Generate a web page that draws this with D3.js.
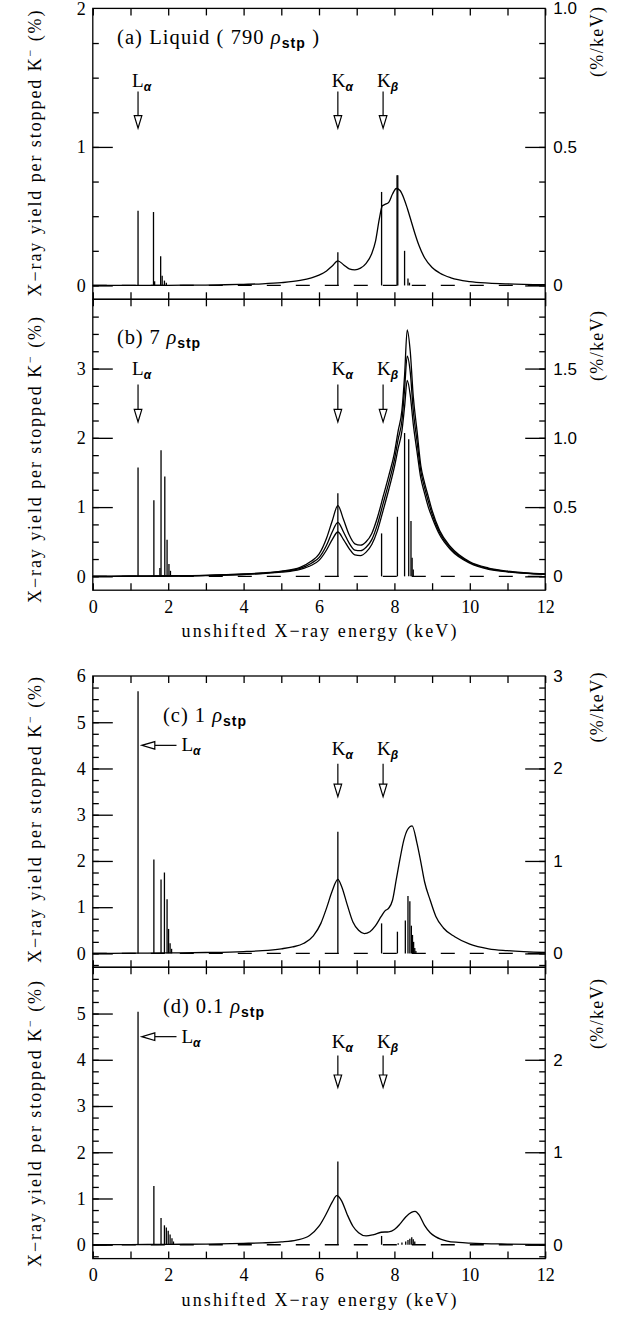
<!DOCTYPE html>
<html><head><meta charset="utf-8">
<script src="https://cdn.jsdelivr.net/npm/d3@7"></script>
<style>
body{margin:0;background:#fff;}
svg{display:block;}
</style></head><body>
<svg id="chart" width="621" height="1317"></svg>
<script>
// ---------------- DATA ----------------
const xTickValues = [0,1,2,3,4,5,6,7,8,9,10,11,12];
const xTickLabels = [0,2,4,6,8,10,12];

// Panel (a) Liquid, continuum curve
const energyA = [0,1,2,3,3.5,4,4.5,5,5.5,5.8,6.0,6.2,6.35,6.5,6.65,6.8,6.95,7.1,7.25,7.4,7.5,7.6,7.68,7.75,7.85,7.95,8.05,8.15,8.25,8.35,8.45,8.55,8.65,8.8,9.0,9.2,9.5,10,10.5,11,12];
const yieldA  = [0,0,0.001,0.003,0.005,0.008,0.012,0.02,0.036,0.055,0.075,0.105,0.14,0.178,0.15,0.12,0.113,0.125,0.16,0.23,0.32,0.48,0.575,0.585,0.6,0.66,0.70,0.685,0.63,0.55,0.46,0.37,0.29,0.2,0.13,0.09,0.055,0.028,0.017,0.011,0.005];
const spikeEA = [1.2,1.61,1.64,1.8,1.84,1.9,1.95,6.5,7.66,8.07,8.09,8.27,8.36,8.4];
const spikeHA = [0.54,0.53,0.03,0.21,0.07,0.035,0.02,0.24,0.675,0.795,0.795,0.25,0.05,0.02];

// Panel (b) 7 rho_stp, three curves
const energyB = [0,1,2,3,4,4.5,5,5.5,5.8,6.0,6.2,6.35,6.5,6.65,6.8,6.95,7.1,7.25,7.4,7.55,7.7,7.85,8.0,8.1,8.2,8.27,8.34,8.42,8.5,8.6,8.7,8.8,8.9,9.0,9.2,9.5,10,10.5,11,12];
const yieldB1 = [0,0.002,0.006,0.015,0.035,0.05,0.075,0.13,0.22,0.32,0.55,0.8,1.02,0.82,0.6,0.47,0.45,0.5,0.62,0.85,1.15,1.45,1.78,2.1,2.4,2.9,3.56,3.25,2.6,2.1,1.6,1.35,1.15,0.95,0.66,0.42,0.21,0.12,0.075,0.035];
const yieldB2 = [0,0.002,0.005,0.013,0.03,0.045,0.068,0.115,0.19,0.27,0.45,0.64,0.78,0.64,0.48,0.38,0.37,0.42,0.53,0.75,1.05,1.35,1.68,1.98,2.25,2.7,3.18,2.95,2.4,1.95,1.52,1.28,1.08,0.9,0.63,0.4,0.2,0.11,0.07,0.03];
const yieldB3 = [0,0.002,0.004,0.011,0.026,0.04,0.06,0.1,0.16,0.23,0.38,0.53,0.64,0.53,0.4,0.31,0.3,0.35,0.46,0.66,0.95,1.25,1.58,1.85,2.1,2.45,2.83,2.62,2.2,1.8,1.42,1.2,1.0,0.85,0.6,0.38,0.19,0.1,0.065,0.028];
const spikeEB = [1.2,1.62,1.78,1.81,1.91,1.97,2.02,2.06,6.5,7.66,8.08,8.27,8.38,8.44,8.47,8.5];
const spikeHB = [1.57,1.1,0.12,1.82,1.44,0.53,0.18,0.08,1.2,0.62,0.86,2.07,1.98,0.8,0.27,0.1];

// Panel (c) 1 rho_stp
const energyC = [0,1,2,3,4,4.5,5,5.3,5.6,5.85,6.05,6.2,6.35,6.5,6.6,6.75,6.9,7.05,7.2,7.35,7.5,7.65,7.75,7.85,7.95,8.05,8.15,8.25,8.35,8.47,8.6,8.7,8.8,8.95,9.1,9.3,9.6,10,10.5,11,12];
const yieldC  = [0,0.005,0.01,0.02,0.04,0.06,0.1,0.14,0.22,0.38,0.65,0.98,1.35,1.6,1.45,1.05,0.68,0.5,0.43,0.47,0.6,0.8,0.92,0.98,1.15,1.6,2.05,2.45,2.68,2.76,2.38,1.98,1.55,1.15,0.8,0.55,0.36,0.2,0.1,0.06,0.02];
const spikeEC = [1.2,1.62,1.81,1.9,1.97,2.01,2.05,2.09,6.5,7.66,8.08,8.29,8.36,8.41,8.45,8.48,8.51,8.54,8.57];
const spikeHC = [5.67,2.03,1.6,1.75,1.17,0.53,0.22,0.1,2.63,0.65,0.47,0.71,1.24,1.13,0.6,0.4,0.25,0.12,0.05];

// Panel (d) 0.1 rho_stp
const energyD = [0,1,2,3,4,4.5,5,5.4,5.75,6.0,6.2,6.35,6.47,6.6,6.75,6.9,7.05,7.25,7.45,7.65,7.85,8.0,8.15,8.3,8.45,8.55,8.65,8.8,8.95,9.1,9.4,9.7,10,11,12];
const yieldD  = [0,0.003,0.008,0.015,0.03,0.04,0.06,0.1,0.2,0.4,0.68,0.92,1.06,0.95,0.65,0.4,0.26,0.19,0.22,0.27,0.28,0.33,0.45,0.6,0.7,0.72,0.65,0.42,0.26,0.17,0.08,0.05,0.035,0.015,0.008];
const spikeED = [1.2,1.62,1.81,1.9,1.95,2.0,2.05,2.1,2.14,6.5,7.66,8.1,8.2,8.3,8.36,8.41,8.46,8.5,8.54];
const spikeHD = [5.04,1.27,0.58,0.42,0.37,0.3,0.22,0.14,0.07,1.8,0.19,0.03,0.05,0.07,0.1,0.13,0.16,0.12,0.07];

// Axis tick labels
const leftLabelsA = [0,1,2];
const leftLabelsB = [0,1,2,3];
const leftLabelsC = [0,1,2,3,4,5,6];
const leftLabelsD = [0,1,2,3,4,5];
const rightTextA = ["0","0.5","1.0"];
const rightTextB = ["0","0.5","1.0","1.5"];
const rightTextC = ["0","1","2","3"];
const rightTextD = ["0","1","2"];

// ---------------- LAYOUT ----------------
const svg = d3.select("#chart");
const X0 = 92.8, X1 = 545.2;
const x = d3.scaleLinear().domain([0,12]).range([X0, X1]);
const serif = "'Liberation Serif','DejaVu Serif',serif";
const sans = "'Liberation Sans','DejaVu Sans',sans-serif";

const panels = [
  {key:"a", top:8.4,  bottom:299.3, yMin:-0.1, yMax:2, curves:[[energyA,yieldA]], sE:spikeEA, sH:spikeHA,
   left:leftLabelsA, rightText:rightTextA, rightScale:2, xLabels:false,
   title:["(a) Liquid ( 790 ","ρ","stp"," )"], tx:117, ty:43.5, tw:202, ytC:153.5, rtC:42,
   arrows:[{l:"L",s:"α",e:1.2,t:1.4,b:1.135,ly:1.43},{l:"K",s:"α",e:6.5,t:1.4,b:1.135,ly:1.43},{l:"K",s:"β",e:7.7,t:1.4,b:1.135,ly:1.43}], hArrow:null},
  {key:"b", top:299.3, bottom:590.2, yMin:-0.2, yMax:4, curves:[[energyB,yieldB1],[energyB,yieldB2],[energyB,yieldB3]], sE:spikeEB, sH:spikeHB,
   left:leftLabelsB, rightText:rightTextB, rightScale:2, xLabels:true,
   title:["(b) 7 ","ρ","stp",""], tx:117, ty:343.5, tw:83, ytC:460, rtC:346,
   arrows:[{l:"L",s:"α",e:1.2,t:2.77,b:2.23,ly:2.9},{l:"K",s:"α",e:6.5,t:2.77,b:2.23,ly:2.9},{l:"K",s:"β",e:7.7,t:2.77,b:2.23,ly:2.9}], hArrow:null},
  {key:"c", top:676, bottom:967.3, yMin:-0.3, yMax:6, curves:[[energyC,yieldC]], sE:spikeEC, sH:spikeHC,
   left:leftLabelsC, rightText:rightTextC, rightScale:0.5, xLabels:false,
   title:["(c) 1 ","ρ","stp",""], tx:163, ty:721.7, tw:83, ytC:820, rtC:707.5,
   arrows:[{l:"K",s:"α",e:6.5,t:4.1,b:3.39,ly:4.29},{l:"K",s:"β",e:7.7,t:4.1,b:3.39,ly:4.29}], hArrow:{e0:1.3,e1:2.22,v:4.5}},
  {key:"d", top:967.3, bottom:1258.6, yMin:-0.3, yMax:6, curves:[[energyD,yieldD]], sE:spikeED, sH:spikeHD,
   left:leftLabelsD, rightText:rightTextD, rightScale:0.5, xLabels:true,
   title:["(d) 0.1 ","ρ","stp",""], tx:163, ty:1013.3, tw:101, ytC:1124, rtC:1014,
   arrows:[{l:"K",s:"α",e:6.5,t:4.09,b:3.4,ly:4.26},{l:"K",s:"β",e:7.7,t:4.09,b:3.4,ly:4.26}], hArrow:{e0:1.3,e1:2.22,v:4.5}}
];

panels.forEach(p => {
  const y = d3.scaleLinear().domain([p.yMin, p.yMax]).range([p.bottom, p.top]);
  const g = svg.append("g").attr("class","panel-"+p.key);

  // dashed zero baseline
  g.append("line").attr("x1",x(0)).attr("x2",x(12)).attr("y1",y(0)).attr("y2",y(0))
    .attr("stroke","#000").attr("stroke-width",1.3).attr("stroke-dasharray","14,15");

  // continuum curves
  const line = d3.line().x(d=>x(d[0])).y(d=>y(d[1])).curve(d3.curveMonotoneX);
  p.curves.forEach(([E,V]) => {
    g.append("path").datum(E.map((e,i)=>[e,V[i]]))
      .attr("d", line).attr("fill","none").attr("stroke","#000").attr("stroke-width",1.3);
  });

  // discrete line spikes
  g.selectAll("line.spike").data(p.sE.map((e,i)=>[e,p.sH[i]])).enter().append("line")
    .attr("class","spike")
    .attr("x1",d=>x(d[0])).attr("x2",d=>x(d[0]))
    .attr("y1",y(0)).attr("y2",d=>y(d[1]))
    .attr("stroke","#000").attr("stroke-width",1.3);

  // frame
  g.append("rect").attr("x",X0).attr("y",p.top).attr("width",X1-X0).attr("height",p.bottom-p.top)
    .attr("fill","none").attr("stroke","#000").attr("stroke-width",1.3);

  // x ticks bottom & top
  const xb = g.append("g").attr("transform",`translate(0,${p.bottom})`)
    .call(d3.axisBottom(x).tickValues(xTickValues).tickSize(-7).tickPadding(10)
      .tickFormat(d => (p.xLabels && xTickLabels.includes(d)) ? d : ""));
  const xt = g.append("g").attr("transform",`translate(0,${p.top})`)
    .call(d3.axisTop(x).tickValues(xTickValues).tickSize(-7).tickFormat(""));

  // y minor ticks every 0.25
  const minor = d3.range(Math.ceil(p.yMin/0.25)*0.25, p.yMax+1e-9, 0.25).filter(v=>v>p.yMin+1e-9 && v<p.yMax-1e-9);
  const yl = g.append("g").attr("transform",`translate(${X0},0)`)
    .call(d3.axisLeft(y).tickValues(minor).tickSize(-6).tickFormat(""));
  const ylM = g.append("g").attr("transform",`translate(${X0},0)`)
    .call(d3.axisLeft(y).tickValues(p.left.filter(v=>v<p.yMax)).tickSize(-20).tickFormat(""));
  const ylL = g.append("g").attr("transform",`translate(${X0},0)`)
    .call(d3.axisLeft(y).tickValues(p.left).tickSize(0).tickPadding(7).tickFormat(d3.format("d")));
  const yr = g.append("g").attr("transform",`translate(${X1},0)`)
    .call(d3.axisRight(y).tickValues(minor).tickSize(-6).tickFormat(""));
  const rightVals = p.rightText.map((t,i)=> i*(p.rightScale===2?1:2));
  const yrM = g.append("g").attr("transform",`translate(${X1},0)`)
    .call(d3.axisRight(y).tickValues(rightVals.filter(v=>v<p.yMax)).tickSize(-20).tickFormat(""));
  const yrL = g.append("g").attr("transform",`translate(${X1},0)`)
    .call(d3.axisRight(y).tickValues(rightVals).tickSize(0).tickPadding(8).tickFormat((d,i)=>p.rightText[i]));

  [xb,xt,yl,ylM,ylL,yr,yrM,yrL].forEach(a=>{
    a.select(".domain").remove();
    a.selectAll(".tick line").attr("stroke","#000").attr("stroke-width",1.3);
  });
  xb.selectAll(".tick text").attr("font-family",serif).attr("font-size",18).attr("fill","#000");
  ylL.selectAll(".tick text").attr("font-family",serif).attr("font-size",18).attr("fill","#000");
  yrL.selectAll(".tick text").attr("font-family",sans).attr("font-size",17).attr("fill","#000");

  // panel title
  const t = g.append("text").attr("x",p.tx).attr("y",p.ty).attr("font-family",serif).attr("font-size",20.5).attr("fill","#000")
    .attr("textLength",p.tw).attr("lengthAdjust","spacing");
  t.append("tspan").text(p.title[0]);
  t.append("tspan").attr("font-style","italic").text(p.title[1]);
  t.append("tspan").attr("font-family",sans).attr("font-weight","bold").attr("font-size",14).attr("dy",4).text(p.title[2]);
  if (p.title[3]) t.append("tspan").attr("dy",-4).text(p.title[3]);

  // vertical arrows with labels
  p.arrows.forEach(a => {
    const ax = x(a.e), yt = y(a.t), yb = y(a.b), hh = 12.5, hw = 3.8;
    g.append("line").attr("x1",ax).attr("x2",ax).attr("y1",yt).attr("y2",yb-hh).attr("stroke","#000").attr("stroke-width",1.2);
    g.append("path").attr("d",`M${ax-hw},${yb-hh}L${ax+hw},${yb-hh}L${ax},${yb}Z`)
      .attr("fill","#fff").attr("stroke","#000").attr("stroke-width",1.2);
    const lt = g.append("text").attr("x",ax-6).attr("y",y(a.ly)).attr("font-family",serif).attr("font-size",19).attr("fill","#000");
    lt.append("tspan").text(a.l);
    lt.append("tspan").attr("font-family",sans).attr("font-weight","bold").attr("font-style","italic").attr("font-size",12).attr("dy",4).text(a.s);
  });

  // horizontal L-alpha arrow
  if (p.hArrow) {
    const h = p.hArrow, yy = y(h.v), x0 = x(h.e0), x1 = x(h.e1), hl = 13, hw = 3.8;
    g.append("line").attr("x1",x0+hl).attr("x2",x1).attr("y1",yy).attr("y2",yy).attr("stroke","#000").attr("stroke-width",1.2);
    g.append("path").attr("d",`M${x0+hl},${yy-hw}L${x0+hl},${yy+hw}L${x0},${yy}Z`)
      .attr("fill","#fff").attr("stroke","#000").attr("stroke-width",1.2);
    const lt = g.append("text").attr("x",x1+5).attr("y",yy+6).attr("font-family",serif).attr("font-size",19).attr("fill","#000");
    lt.append("tspan").text("L");
    lt.append("tspan").attr("font-family",sans).attr("font-weight","bold").attr("font-style","italic").attr("font-size",12).attr("dy",4).text("α");
  }

  // left y-axis title
  const yt = g.append("text").attr("transform",`translate(41,${p.ytC}) rotate(-90)`)
    .attr("text-anchor","middle").attr("font-family",serif).attr("font-size",18).attr("fill","#000")
    .attr("textLength",286).attr("lengthAdjust","spacing");
  yt.append("tspan").text("X−ray yield per stopped K");
  yt.append("tspan").attr("dy",-7).attr("font-size",12).text("−");
  yt.append("tspan").attr("dy",7).text(" (%)");

  // right axis title
  g.append("text").attr("transform",`translate(603,${p.rtC}) rotate(-90)`)
    .attr("text-anchor","middle").attr("font-family",serif).attr("font-size",18).attr("fill","#000")
    .attr("textLength",70).attr("lengthAdjust","spacing")
    .text("(%/keV)");

  // x-axis title
  if (p.xLabels) {
    g.append("text").attr("x",(X0+X1)/2).attr("y",p.bottom+47).attr("text-anchor","middle")
      .attr("font-family",serif).attr("font-size",18).attr("fill","#000")
      .attr("textLength",275).attr("lengthAdjust","spacing")
      .text("unshifted X−ray energy (keV)");
  }
});
</script></body></html>
